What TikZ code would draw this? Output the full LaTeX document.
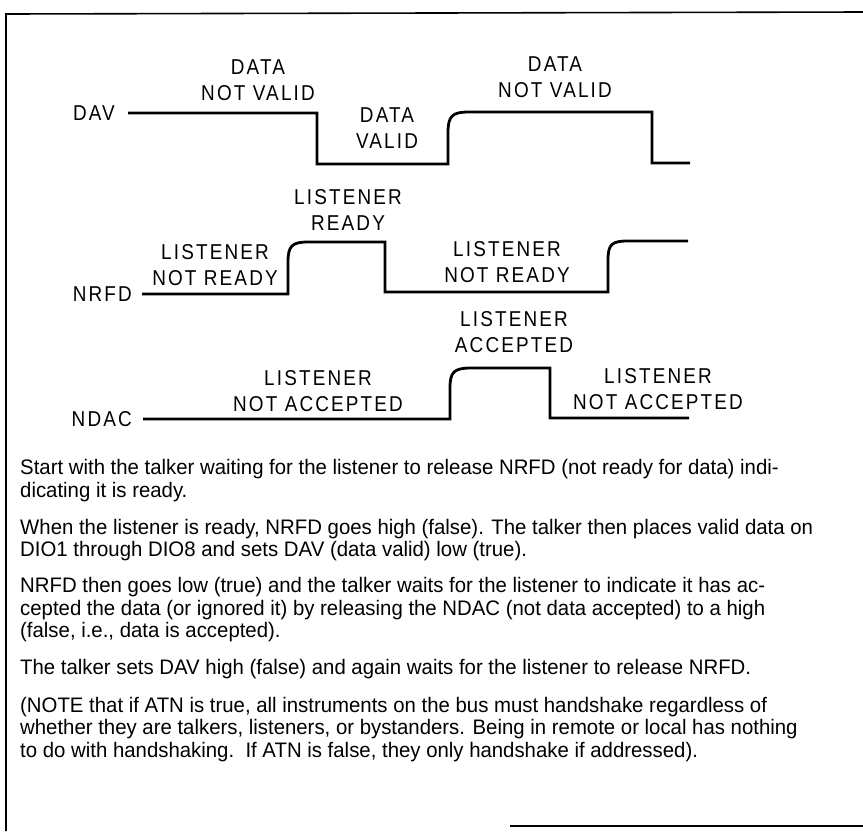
\documentclass[tikz,border=0pt]{standalone}
\usepackage{fontspec}
\setmainfont{Liberation Sans}
\newfontfamily\labfont[FakeStretch=0.88,LetterSpace=10]{Liberation Sans}
\newfontfamily\parfont[FakeStretch=0.97]{Liberation Sans}
\begin{document}
\begin{tikzpicture}[x=1pt,y=-1pt,
  wave/.style={line width=2.8pt,line join=miter},
  frameline/.style={line width=1.6pt},
  lab/.style={font=\labfont\fontsize{21.5}{26}\selectfont,align=center,inner sep=0pt},
  sig/.style={font=\labfont\fontsize{21.5}{26}\selectfont,inner sep=0pt,anchor=east},
  para/.style={font=\parfont\fontsize{21}{22}\selectfont,inner sep=0pt,anchor=base west}]
\useasboundingbox (0,0) rectangle (863,831);
% frame
\draw[frameline] (6,831) -- (6,14) -- (863,12);
\draw[frameline] (510,826) -- (863,826);
% signal names
\node[sig] (dav) at (115,113) {DAV};
\node[sig] (nrfd) at (132,294) {NRFD};
\node[sig] (ndac) at (132,419) {NDAC};
% waveforms
\draw[wave] (128,113) -- (317,113) -- (317,164) -- (448,164) -- (448,133)
  .. controls (448,116) and (452,112) .. (469,112) -- (652,112) -- (652,163) -- (690,163);
\draw[wave] (142,294) -- (288,294) -- (288,262)
  .. controls (288,246) and (292,242) .. (308,242) -- (385,242) -- (385,292) -- (608,292) -- (608,260)
  .. controls (608,244) and (612,241) .. (628,241) -- (688,241);
\draw[wave] (143,419) -- (450,419) -- (450,388)
  .. controls (450,372) and (454,368) .. (471,368) -- (550,368) -- (550,418) -- (689,418);
% state labels
\node[lab] (dnv1) at (258,80) {DATA\\NOT VALID};
\node[lab] (dnv2) at (555,77) {DATA\\NOT VALID};
\node[lab] (dv) at (387,128) {DATA\\VALID};
\node[lab] (lr) at (348,210) {LISTENER\\READY};
\node[lab] (lnr1) at (215,265) {LISTENER\\NOT READY};
\node[lab] (lnr2) at (507,262) {LISTENER\\NOT READY};
\node[lab] (la) at (514,332) {LISTENER\\ACCEPTED};
\node[lab] (lna1) at (318,391) {LISTENER\\NOT ACCEPTED};
\node[lab] (lna2) at (658,389) {LISTENER\\NOT ACCEPTED};
% paragraphs
\node[para] (p1) at (20,474) {Start with the talker waiting for the listener to release NRFD (not ready for data) indi-};
\node[para] (p2) at (20,497) {dicating it is ready.};
\node[para] (p3) at (20,534) {When the listener is ready, NRFD goes high (false). The talker then places valid data on};
\node[para] (p4) at (20,556) {DIO1 through DIO8 and sets DAV (data valid) low (true).};
\node[para] (p5) at (20,592) {NRFD then goes low (true) and the talker waits for the listener to indicate it has ac-};
\node[para] (p6) at (20,615) {cepted the data (or ignored it) by releasing the NDAC (not data accepted) to a high};
\node[para] (p7) at (20,637) {(false, i.e., data is accepted).};
\node[para] (p8) at (20,674) {The talker sets DAV high (false) and again waits for the listener to release NRFD.};
\node[para] (p9) at (20,712) {(NOTE that if ATN is true, all instruments on the bus must handshake regardless of};
\node[para] (p10) at (20,734) {whether they are talkers, listeners, or bystanders. Being in remote or local has nothing};
\node[para] (p11) at (20,757) {to do with handshaking.\ \ If ATN is false, they only handshake if addressed).};
\end{tikzpicture}
\end{document}
